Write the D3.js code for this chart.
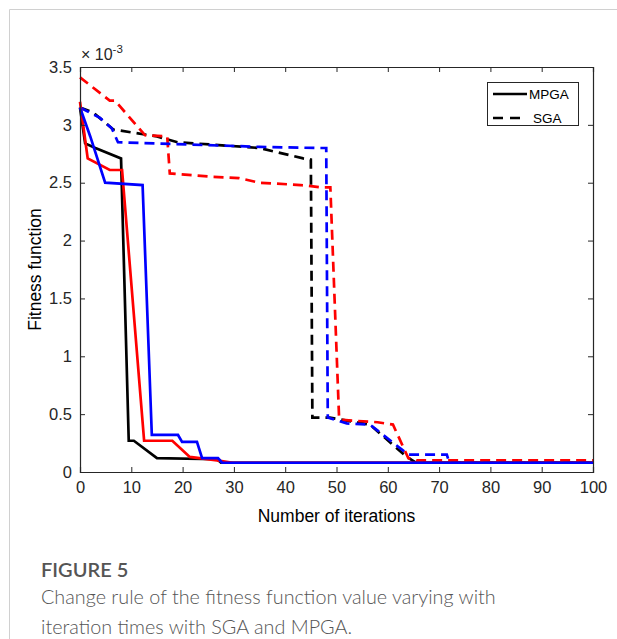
<!DOCTYPE html>
<html>
<head>
<meta charset="utf-8">
<script src="https://cdn.jsdelivr.net/npm/d3@7"></script>
<style>
  body { margin: 0; background: #fff; }
  svg { display: block; }
</style>
</head>
<body>
<div id="vis"></div>
<script>
// values are in units of 1e-3
const xTicks = [0, 10, 20, 30, 40, 50, 60, 70, 80, 90, 100]
const yTicks = [0, 0.5, 1, 1.5, 2, 2.5, 3, 3.5]

const mpgaBlack = [[0, 3.15], [1, 2.84], [3, 2.8], [8, 2.71], [9.5, 0.27], [10.5, 0.27], [15, 0.12], [26.7, 0.11], [27.5, 0.08], [100, 0.08]]
const mpgaRed = [[0, 3.2], [1.5, 2.71], [5.8, 2.61], [8.2, 2.61], [12.5, 0.27], [18, 0.27], [21.4, 0.13], [26.7, 0.1], [29.8, 0.08], [100, 0.08]]
const mpgaBlue = [[0, 3.15], [2, 2.9], [4.9, 2.5], [12.2, 2.48], [14, 0.32], [19.1, 0.32], [19.9, 0.26], [22.8, 0.26], [23.8, 0.12], [26.9, 0.12], [27.7, 0.08], [100, 0.08]]

const sgaBlack = [[0, 3.15], [2.5, 3.11], [6.5, 2.96], [15, 2.9], [19, 2.85], [35, 2.8], [43.5, 2.71], [45, 2.7], [45.3, 0.47], [48.7, 0.47], [56.5, 0.41], [63.7, 0.13], [65.5, 0.08], [100, 0.08]]
const sgaRed = [[0, 3.41], [5.8, 3.21], [6.8, 3.21], [12.7, 2.91], [17, 2.9], [17.5, 2.58], [26, 2.55], [31, 2.54], [35, 2.5], [43, 2.48], [47, 2.46], [48.8, 2.46], [50.5, 0.47], [51, 0.45], [58, 0.43], [61, 0.41], [64, 0.12], [65.7, 0.1], [100, 0.1]]
const sgaBlue = [[0, 3.15], [3.9, 3.06], [6.2, 2.97], [7.4, 2.85], [35, 2.81], [46, 2.8], [48, 2.8], [48.3, 0.47], [52, 0.42], [56.5, 0.41], [64, 0.15], [71.5, 0.15], [72, 0.08], [100, 0.08]]

const legendLabels = ['MPGA', 'SGA']

const W = 617, H = 639
const mLeft = 80, mRight = 593, mTop = 67, mBottom = 472

const svg = d3.select('#vis').append('svg').attr('width', W).attr('height', H)

// outer frame (light grey, left and top only)
svg.append('path')
  .attr('d', 'M9.5,' + H + 'V9.5H' + W)
  .attr('fill', 'none')
  .attr('stroke', '#d0d0d0')
  .attr('stroke-width', 1)

const x = d3.scaleLinear().domain([0, 100]).range([mLeft, mRight])
const y = d3.scaleLinear().domain([0, 3.5]).range([mBottom, mTop])

const line = d3.line()
  .x(function (d) { return x(d[0]) })
  .y(function (d) { return y(d[1]) })

const plot = svg.append('g')

// dashed first, solid on top
const series = [
  { data: sgaBlack, color: '#000', dash: '10,6' },
  { data: sgaRed, color: '#f00', dash: '10,6' },
  { data: sgaBlue, color: '#00f', dash: '10,6' },
  { data: mpgaBlack, color: '#000', dash: null },
  { data: mpgaRed, color: '#f00', dash: null },
  { data: mpgaBlue, color: '#00f', dash: null },
]

plot.selectAll('path.series')
  .data(series)
  .enter()
  .append('path')
  .attr('class', 'series')
  .attr('d', function (d) { return line(d.data) })
  .attr('fill', 'none')
  .attr('stroke', function (d) { return d.color })
  .attr('stroke-width', 2.7)
  .attr('stroke-dasharray', function (d) { return d.dash })
  .attr('stroke-linejoin', 'miter')

// axes with inward ticks
const font = "'Liberation Sans', Arial, sans-serif"
const xAxis = svg.append('g')
  .attr('transform', 'translate(0,' + mBottom + ')')
  .call(d3.axisBottom(x).tickValues(xTicks).tickSize(-5).tickPadding(9).tickFormat(d3.format('d')))
const xAxisTop = svg.append('g')
  .attr('transform', 'translate(0,' + mTop + ')')
  .call(d3.axisTop(x).tickValues(xTicks).tickSize(-5).tickFormat(''))
const yAxis = svg.append('g')
  .attr('transform', 'translate(' + mLeft + ',0)')
  .call(d3.axisLeft(y).tickValues(yTicks).tickSize(-5).tickPadding(8).tickFormat(function (d) { return d3.format('')(d) }))
const yAxisRight = svg.append('g')
  .attr('transform', 'translate(' + mRight + ',0)')
  .call(d3.axisRight(y).tickValues(yTicks).tickSize(-5).tickFormat(''))

;[xAxis, xAxisTop, yAxis, yAxisRight].forEach(function (g) {
  g.select('.domain').attr('stroke', '#262626').attr('stroke-width', 1.2)
  g.selectAll('.tick line').attr('stroke', '#262626').attr('stroke-width', 1)
  g.selectAll('text').attr('font-family', font).attr('font-size', 16.5).attr('fill', '#262626')
})

// exponent label
const expo = svg.append('text')
  .attr('x', 81)
  .attr('y', 60)
  .attr('font-family', font)
  .attr('font-size', 16)
  .attr('fill', '#262626')
expo.append('tspan').text('\u00d7 10')
expo.append('tspan').attr('font-size', 11.5).attr('dy', -7).text('-3')

// axis titles
svg.append('text')
  .attr('x', (mLeft + mRight) / 2)
  .attr('y', 522)
  .attr('text-anchor', 'middle')
  .attr('font-family', font)
  .attr('font-size', 17.5)
  .attr('fill', '#000')
  .text('Number of iterations')

svg.append('text')
  .attr('transform', 'translate(41,' + (mTop + mBottom) / 2 + ')rotate(-90)')
  .attr('text-anchor', 'middle')
  .attr('font-family', font)
  .attr('font-size', 17.5)
  .attr('fill', '#000')
  .text('Fitness function')

// legend
const lg = svg.append('g')
lg.append('rect')
  .attr('x', 487.5).attr('y', 82.5).attr('width', 91).attr('height', 43)
  .attr('fill', '#fff').attr('stroke', '#262626').attr('stroke-width', 1)
lg.selectAll('line.key')
  .data(legendLabels)
  .enter()
  .append('line')
  .attr('x1', 493).attr('x2', 527)
  .attr('y1', function (d, i) { return 94 + i * 24 })
  .attr('y2', function (d, i) { return 94 + i * 24 })
  .attr('stroke', '#000')
  .attr('stroke-width', 2.7)
  .attr('stroke-dasharray', function (d, i) { return i ? '10,7' : null })
lg.selectAll('text.key')
  .data(legendLabels)
  .enter()
  .append('text')
  .attr('x', function (d, i) { return i ? 533 : 529 })
  .attr('y', function (d, i) { return 99 + i * 24 })
  .attr('font-family', font)
  .attr('font-size', 13.5)
  .attr('fill', '#000')
  .text(function (d) { return d })

// caption
const capFont = 'Lato, Open Sans, sans-serif'
svg.append('text')
  .attr('x', 41).attr('y', 577)
  .attr('font-family', capFont).attr('font-size', 20).attr('font-weight', 600)
  .attr('fill', '#555')
  .text('FIGURE 5')
svg.append('text')
  .attr('x', 41).attr('y', 604)
  .attr('font-family', capFont).attr('font-size', 19.8).attr('font-weight', 300)
  .attr('fill', '#555')
  .text('Change rule of the fitness function value varying with')
svg.append('text')
  .attr('x', 41).attr('y', 634)
  .attr('font-family', capFont).attr('font-size', 19.8).attr('font-weight', 300)
  .attr('fill', '#555')
  .text('iteration times with SGA and MPGA.')
</script>
</body>
</html>
